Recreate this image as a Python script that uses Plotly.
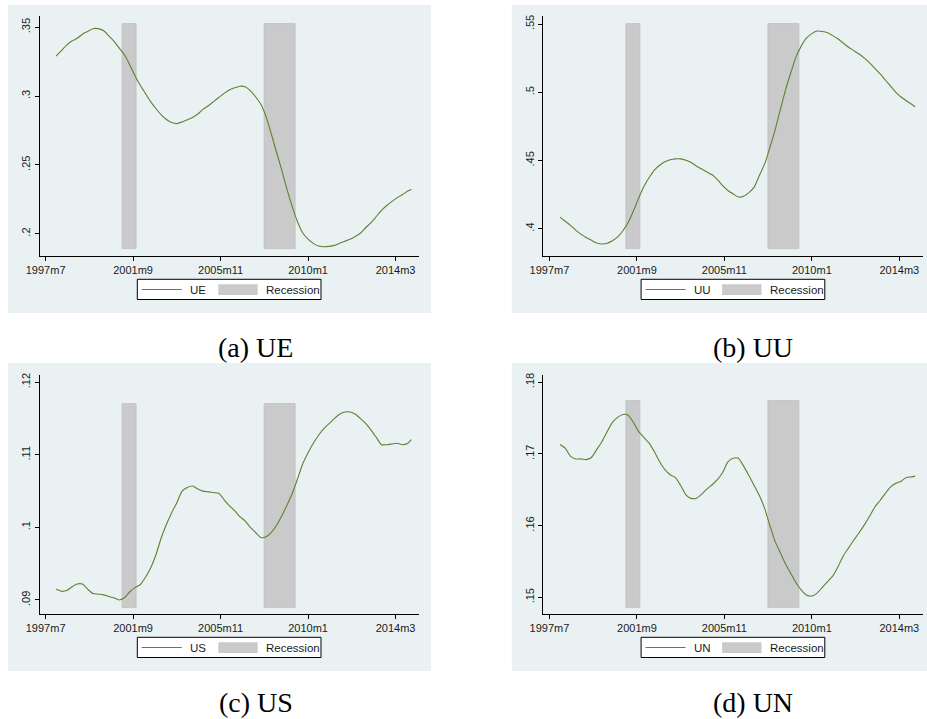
import plotly.graph_objects as go

# ---------------- data ----------------
dates = ["1998m1", "1998m4", "1998m7", "1998m10", "1999m1", "1999m4", "1999m7", "1999m10",
         "2000m1", "2000m4", "2000m7", "2000m10", "2001m1", "2001m4", "2001m7", "2001m10",
         "2002m1", "2002m4", "2002m7", "2002m10", "2003m1", "2003m4", "2003m7", "2003m10",
         "2004m1", "2004m4", "2004m7", "2004m10", "2005m1", "2005m4", "2005m7", "2005m10",
         "2006m1", "2006m4", "2006m7", "2006m10", "2007m1", "2007m4", "2007m7", "2007m10",
         "2008m1", "2008m4", "2008m7", "2008m10", "2009m1", "2009m4", "2009m7", "2009m10",
         "2010m1", "2010m4", "2010m7", "2010m10", "2011m1", "2011m4", "2011m7", "2011m10",
         "2012m1", "2012m4", "2012m7", "2012m10", "2013m1", "2013m4", "2013m7", "2013m10",
         "2014m1", "2014m4", "2014m7", "2014m10", "2014m12"]

ue = [0.329, 0.333, 0.337, 0.340, 0.342, 0.345, 0.347, 0.349, 0.349, 0.3476, 0.344, 0.340,
      0.335, 0.330, 0.323, 0.315, 0.308, 0.302, 0.296, 0.291, 0.2865, 0.283, 0.2808, 0.280,
      0.2812, 0.2828, 0.2845, 0.287, 0.2905, 0.293, 0.296, 0.299, 0.302, 0.3045, 0.306, 0.3072,
      0.3068, 0.304, 0.2995, 0.294, 0.285, 0.2725, 0.259, 0.246, 0.232, 0.2195, 0.2085, 0.2005,
      0.196, 0.193, 0.191, 0.1905, 0.1908, 0.1915, 0.193, 0.1945, 0.196, 0.198, 0.2005, 0.2045,
      0.208, 0.2125, 0.217, 0.2205, 0.2235, 0.2262, 0.2285, 0.231, 0.2322]

uu = [0.4085, 0.4055, 0.4025, 0.399, 0.396, 0.3935, 0.3915, 0.3895, 0.3888, 0.3893, 0.3912, 0.394,
      0.3985, 0.4045, 0.413, 0.4225, 0.431, 0.4375, 0.443, 0.4465, 0.449, 0.4505, 0.4512, 0.4512,
      0.4502, 0.4485, 0.446, 0.4437, 0.4415, 0.4395, 0.436, 0.4315, 0.428, 0.4255, 0.4232, 0.4238,
      0.4265, 0.4305, 0.439, 0.4475, 0.4595, 0.4725, 0.4875, 0.502, 0.5145, 0.5261, 0.534, 0.5398,
      0.543, 0.5449, 0.5446, 0.5437, 0.5415, 0.539, 0.536, 0.533, 0.5305, 0.528, 0.525, 0.5215,
      0.5175, 0.5135, 0.509, 0.5045, 0.500, 0.4965, 0.4938, 0.4912, 0.4894]

us = [0.0915, 0.0912, 0.0913, 0.0918, 0.0922, 0.0922, 0.0915, 0.0909, 0.0908, 0.0907, 0.0905, 0.0903,
      0.0900, 0.0903, 0.0911, 0.0917, 0.0921, 0.0931, 0.0944, 0.0962, 0.0985, 0.1004, 0.1020, 0.1034,
      0.1050, 0.1055, 0.1057, 0.1053, 0.1050, 0.1049, 0.1048, 0.1047, 0.1038, 0.1030, 0.1023, 0.1015,
      0.1009, 0.1000, 0.0993, 0.0986, 0.0987, 0.0993, 0.1003, 0.1016, 0.1031, 0.1047, 0.1067, 0.1088,
      0.1103, 0.1116, 0.1127, 0.1136, 0.1143, 0.1150, 0.1156, 0.1159, 0.1159, 0.1156, 0.1150, 0.1143,
      0.1134, 0.1124, 0.1114, 0.1114, 0.1115, 0.1116, 0.1114, 0.1116, 0.1121]

un = [0.1713, 0.1708, 0.1697, 0.1693, 0.1693, 0.1692, 0.1695, 0.1706, 0.1717, 0.1731, 0.1744, 0.1751,
      0.1755, 0.1754, 0.1744, 0.1731, 0.1723, 0.1715, 0.1703, 0.1689, 0.1678, 0.1671, 0.1667, 0.1656,
      0.1643, 0.1638, 0.1638, 0.1644, 0.1651, 0.1657, 0.1664, 0.1674, 0.1689, 0.1694, 0.1694, 0.1683,
      0.1670, 0.1656, 0.1642, 0.1624, 0.1600, 0.1578, 0.1562, 0.1546, 0.1533, 0.1520, 0.1510, 0.1503,
      0.1502, 0.1506, 0.1514, 0.1522, 0.1530, 0.1543, 0.1558, 0.1569, 0.1580, 0.1590, 0.1601, 0.1613,
      0.1626, 0.1635, 0.1645, 0.1654, 0.1659, 0.1662, 0.1667, 0.1668, 0.1669]

rec_start = ["2001m3", "2007m12"]
rec_end = ["2001m11", "2009m6"]
# recession shading extent per panel (low, high)
rec_lo = {"UE": 0.1887, "UU": 0.3849, "US": 0.08894, "UN": 0.14855}
rec_hi = {"UE": 0.3524, "UU": 0.5500, "US": 0.11705, "UN": 0.17731}

xtick_labels = ["1997m7", "2001m9", "2005m11", "2010m1", "2014m3"]
ytick_vals = {"UE": [0.2, 0.25, 0.3, 0.35], "UU": [0.4, 0.45, 0.5, 0.55],
              "US": [0.09, 0.1, 0.11, 0.12], "UN": [0.15, 0.16, 0.17, 0.18]}
ytick_text = {"UE": [".2", ".25", ".3", ".35"], "UU": [".4", ".45", ".5", ".55"],
              "US": [".09", ".1", ".11", ".12"], "UN": [".15", ".16", ".17", ".18"]}
captions = {"UE": "(a) UE", "UU": "(b) UU", "US": "(c) US", "UN": "(d) UN"}

# ---------------- helpers ----------------
W, H = 927, 719


def tm(s):
    y, m = s.split("m")
    return (int(y) - 1960) * 12 + int(m) - 1


def px(x):
    return x / W


def py(y):
    return 1 - y / H


LINE_COLOR = "rgb(92,130,50)"
REC_COLOR = "rgb(202,202,202)"
BG = "rgb(234,241,243)"
GRID = "rgb(234,241,243)"
TXT = "#1a1a1a"

panels = [
    # name, values, x offset (px), y offset (px), y range
    ("UE", ue, 0.0, 0.0, [0.1838, 0.3582]),
    ("UU", uu, 503.8, 0.0, [0.3800, 0.5559]),
    ("US", us, 0.0, 358.0, [0.08807, 0.1210]),
    ("UN", un, 503.8, 358.0, [0.14768, 0.1810]),
]

x_vals = [tm(d) for d in dates]
fig = go.Figure()
shapes = []
annotations = []
layout_axes = {}

for i, (name, vals, dx, dy, yr) in enumerate(panels):
    k = "" if i == 0 else str(i + 1)
    xa, ya = "x" + k, "y" + k

    # recession bars
    rs = [tm(s) for s in rec_start]
    re_ = [tm(s) for s in rec_end]
    fig.add_trace(go.Bar(
        x=[(a + b) / 2 for a, b in zip(rs, re_)],
        width=[b - a for a, b in zip(rs, re_)],
        base=[rec_lo[name]] * len(rs),
        y=[rec_hi[name] - rec_lo[name]] * len(rs),
        marker=dict(color=REC_COLOR, line=dict(color="rgb(190,190,190)", width=0.8)),
        xaxis=xa, yaxis=ya, showlegend=False, hoverinfo="skip"))
    # series line
    fig.add_trace(go.Scatter(
        x=x_vals, y=vals, mode="lines",
        line=dict(color=LINE_COLOR, width=1.1, shape="spline", smoothing=0.6),
        xaxis=xa, yaxis=ya, showlegend=False, name=name))

    top = 16 if dy == 0 else 375
    bot = 256 + dy
    layout_axes["xaxis" + k] = dict(
        domain=[px(39.5 + dx), px(419 + dx)], range=[446.5, 663.4], anchor=ya,
        tickvals=[tm(t) for t in xtick_labels], ticktext=xtick_labels, automargin=False,
        showline=True, linecolor="black", linewidth=1, ticks="outside", ticklen=4,
        tickcolor="black", showgrid=False, zeroline=False,
        tickfont=dict(family="Liberation Sans, Arial", size=11, color=TXT))
    layout_axes["yaxis" + k] = dict(
        domain=[py(bot), py(top)], range=yr, anchor=xa, automargin=False,
        tickvals=ytick_vals[name], ticktext=ytick_text[name], tickangle=-90,
        showline=True, linecolor="black", linewidth=1, ticks="outside", ticklen=4,
        tickcolor="black", showgrid=True, gridcolor=GRID, gridwidth=1, zeroline=False,
        tickfont=dict(family="Liberation Sans, Arial", size=11, color=TXT))

    # outer light background
    shapes.append(dict(type="rect", xref="paper", yref="paper", layer="below",
                       x0=px(8 + dx), x1=px(min(431 + dx, W)), y0=py(313 + dy), y1=py(5 + dy),
                       fillcolor=BG, line=dict(width=0)))

    # legend box
    ly = 289.5 + dy
    shapes.append(dict(type="rect", xref="paper", yref="paper",
                       x0=px(137.3 + dx), x1=px(321 + dx), y0=py(299.5 + dy), y1=py(279.3 + dy),
                       fillcolor="white", line=dict(color="black", width=1)))
    shapes.append(dict(type="line", xref="paper", yref="paper",
                       x0=px(141.7 + dx), x1=px(181.7 + dx), y0=py(ly), y1=py(ly),
                       line=dict(color=LINE_COLOR, width=1.1)))
    shapes.append(dict(type="rect", xref="paper", yref="paper",
                       x0=px(218.3 + dx), x1=px(257.7 + dx), y0=py(295 + dy), y1=py(284.3 + dy),
                       fillcolor=REC_COLOR, line=dict(width=0)))
    annotations.append(dict(text=name, xref="paper", yref="paper", x=px(187.7 + dx), y=py(ly),
                            xanchor="left", yanchor="middle", showarrow=False,
                            font=dict(family="Liberation Sans, Arial", size=11.5, color=TXT)))
    annotations.append(dict(text="Recession", xref="paper", yref="paper", x=px(264 + dx), y=py(ly),
                            xanchor="left", yanchor="middle", showarrow=False,
                            font=dict(family="Liberation Sans, Arial", size=11.5, color=TXT)))
    # caption
    cap_x = 256 if dx == 0 else 753
    cap_y = 347 if dy == 0 else 702
    annotations.append(dict(text=captions[name], xref="paper", yref="paper", x=px(cap_x), y=py(cap_y),
                            xanchor="center", yanchor="middle", showarrow=False,
                            font=dict(family="Liberation Serif, Times New Roman, serif", size=28,
                                      color="black")))

fig.update_layout(
    width=W, height=H, margin=dict(l=0, r=0, t=0, b=0, pad=0), autosize=False,
    paper_bgcolor="white", plot_bgcolor="white",
    shapes=shapes, annotations=annotations, showlegend=False, bargap=0,
    **layout_axes)

fig.write_html("out.html")
